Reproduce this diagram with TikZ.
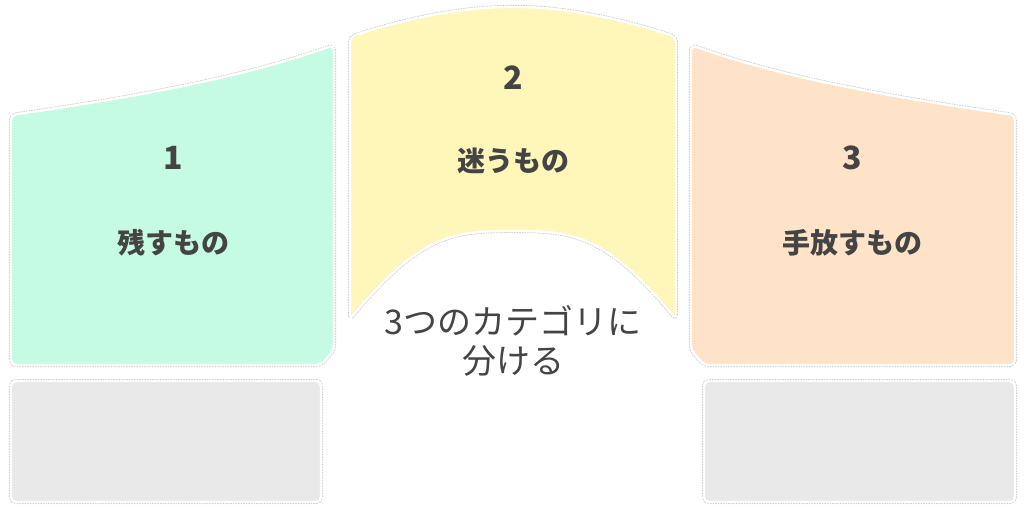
\documentclass[tikz,border=0pt]{standalone}
\usepackage{fontspec}
\setmainfont{Noto Sans CJK JP}
\usetikzlibrary{calc}
\definecolor{mint}{HTML}{C6FBE3}
\definecolor{lemon}{HTML}{FFF6B9}
\definecolor{peach}{HTML}{FEE3C8}
\definecolor{pale}{HTML}{E9E9E9}
\definecolor{ink}{HTML}{444444}
\tikzset{
  rim/.style={preaction={draw=black!20, line width=4pt, dash pattern=on 1.6pt off 1pt}, draw=white, line width=2.4pt, rounded corners=5pt},
  numlbl/.style={text=ink, font=\fontsize{32}{34}\selectfont\bfseries, inner sep=0pt},
  catlbl/.style={text=ink, font=\fontsize{28}{30}\selectfont\bfseries, inner sep=0pt},
  midlbl/.style={text=ink, font=\fontsize{34}{39}\selectfont, align=center, inner sep=0pt}
}
\begin{document}
\begin{tikzpicture}[x=1pt,y=-1pt]
\useasboundingbox (0,0) rectangle (1024,510);
% left panel
\path[rim, fill=mint] (11,115) .. controls (150,95) and (250,75) .. (334,45) -- (334,350) -- (321,365) -- (11,365) -- cycle;
% middle panel
\path[rim, fill=lemon] (350,37) .. controls (400,20) and (460,7) .. (513,7) .. controls (566,7) and (626,20) .. (676,37) -- (676,319) .. controls (608,238) and (576,231) .. (513,231) .. controls (450,231) and (418,238) .. (350,319) -- cycle;
% right panel
\path[rim, fill=peach] (691,45) .. controls (775,75) and (875,95) .. (1015,115) -- (1015,365) -- (704,365) -- (691,350) -- cycle;
% gray boxes
\path[rim, fill=pale] (11,381) rectangle (321,502);
\path[rim, fill=pale] (704,381) rectangle (1015,502);
% labels
\node[numlbl] (n1) at (173,158) {1};
\node[catlbl] (c1) at (173,243) {残すもの};
\node[numlbl] (n2) at (513,78) {2};
\node[catlbl] (c2) at (513,161) {迷うもの};
\node[numlbl] (n3) at (852,158) {3};
\node[catlbl] (c3) at (852,243) {手放すもの};
\node[midlbl] (mid) at (513,341) {3つのカテゴリに\\分ける};
\end{tikzpicture}
\end{document}
